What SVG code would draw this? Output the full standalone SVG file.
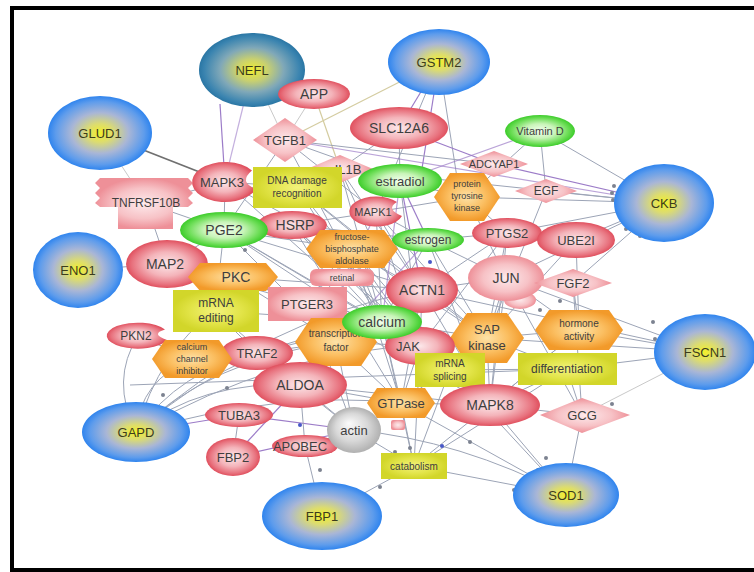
<svg xmlns="http://www.w3.org/2000/svg" width="754" height="572" viewBox="0 0 754 572">
<defs>
<radialGradient id="gB"><stop offset="0" stop-color="#f3f02a"/><stop offset="0.25" stop-color="#dcdc70"/><stop offset="0.55" stop-color="#a9b6d6"/><stop offset="0.85" stop-color="#5e9cec"/><stop offset="1" stop-color="#2f84ee"/></radialGradient>
<radialGradient id="gBD"><stop offset="0" stop-color="#f0ee30"/><stop offset="0.3" stop-color="#c8d070"/><stop offset="0.6" stop-color="#80a8b8"/><stop offset="0.9" stop-color="#3a84b0"/><stop offset="1" stop-color="#2a76a4"/></radialGradient>
<radialGradient id="gR"><stop offset="0" stop-color="#fce8ea"/><stop offset="0.5" stop-color="#f4b4ba"/><stop offset="0.85" stop-color="#e8727e"/><stop offset="1" stop-color="#e0505e"/></radialGradient>
<radialGradient id="gP"><stop offset="0" stop-color="#fdeaec"/><stop offset="0.6" stop-color="#f7c2c6"/><stop offset="1" stop-color="#ee9098"/></radialGradient>
<radialGradient id="gG"><stop offset="0" stop-color="#f4fff0"/><stop offset="0.45" stop-color="#c8f4b8"/><stop offset="0.8" stop-color="#6ede58"/><stop offset="1" stop-color="#3ccc2a"/></radialGradient>
<radialGradient id="gO"><stop offset="0" stop-color="#fde2a8"/><stop offset="0.55" stop-color="#fbbf62"/><stop offset="1" stop-color="#f29a2a"/></radialGradient>
<radialGradient id="gY"><stop offset="0" stop-color="#f2f27c"/><stop offset="0.6" stop-color="#e2e448"/><stop offset="1" stop-color="#d2d62a"/></radialGradient>
<radialGradient id="gA" fx="0.4" fy="0.35"><stop offset="0" stop-color="#fbfbfb"/><stop offset="0.6" stop-color="#d8d8d8"/><stop offset="1" stop-color="#b0b0b0"/></radialGradient>
<style>
.b{fill:url(#gB)} .bd{fill:url(#gBD)} .r{fill:url(#gR)} .p{fill:url(#gP)} .g{fill:url(#gG)} .o{fill:url(#gO)} .y{fill:url(#gY)} .a{fill:url(#gA)}
text{font-family:"Liberation Sans",Arial,sans-serif;text-anchor:middle;fill:#3e3e3e}
.tb{fill:#3c3c1c;font-size:13px}
.t14{font-size:14px} .t13{font-size:13px} .t12{font-size:12px} .t11{font-size:11px} .t10{font-size:10px} .t9{font-size:9px}
.e{stroke:#9ca4b6;stroke-width:1;fill:none}
.el{stroke:#c9c9c9;stroke-width:1;fill:none}
.ep{stroke:#9c7cc8;stroke-width:1.2;fill:none}
.ed{stroke:#707070;stroke-width:1.8;fill:none}
.et{stroke:#d4cca0;stroke-width:1.2;fill:none}
.d{fill:#7c8290} .db{fill:#4858c8}
</style>
</defs>
<rect x="0" y="0" width="754" height="572" fill="#ffffff"/>
<g id="connectors">
<line class="ed" x1="100" y1="133" x2="225" y2="182"/>
<line class="el" x1="100" y1="133" x2="146" y2="203"/>
<line class="ep" x1="225" y1="182" x2="220" y2="104"/>
<line class="ep" x1="252" y1="70" x2="228" y2="168" opacity="0.6"/>
<line class="el" x1="252" y1="70" x2="285" y2="140"/>
<line class="et" x1="314" y1="94" x2="340" y2="169"/>
<line class="el" x1="314" y1="94" x2="285" y2="140"/>
<line class="et" x1="439" y1="62" x2="285" y2="140"/>
<line class="ep" x1="439" y1="62" x2="399" y2="128"/>
<line class="ep" x1="439" y1="62" x2="420" y2="181"/>
<line class="e" x1="439" y1="62" x2="460" y2="197"/>
<line class="e" x1="439" y1="62" x2="376" y2="212"/>
<line class="ep" x1="399" y1="128" x2="494" y2="164"/>
<line class="e" x1="399" y1="128" x2="400" y2="181"/>
<line class="e" x1="399" y1="128" x2="340" y2="169"/>
<line class="e" x1="285" y1="140" x2="494" y2="164"/>
<line class="ep" x1="285" y1="140" x2="664" y2="203" opacity="0.7"/>
<line class="e" x1="285" y1="140" x2="400" y2="181"/>
<line class="e" x1="285" y1="140" x2="376" y2="212"/>
<line class="e" x1="285" y1="140" x2="224" y2="230"/>
<line class="e" x1="540" y1="131" x2="664" y2="203"/>
<line class="e" x1="540" y1="131" x2="546" y2="191"/>
<line class="e" x1="540" y1="131" x2="467" y2="197"/>
<line class="ep" x1="540" y1="131" x2="400" y2="181" opacity="0.7"/>
<line class="ep" x1="494" y1="164" x2="664" y2="203"/>
<line class="e" x1="546" y1="191" x2="664" y2="203"/>
<line class="e" x1="467" y1="197" x2="664" y2="203"/>
<line class="e" x1="576" y1="240" x2="664" y2="203"/>
<line class="e" x1="507" y1="233" x2="664" y2="203"/>
<line class="e" x1="573" y1="283" x2="664" y2="203"/>
<line class="e" x1="506" y1="278" x2="664" y2="203"/>
<line class="e" x1="340" y1="169" x2="664" y2="203"/>
<line class="e" x1="225" y1="182" x2="297" y2="187"/>
<line class="e" x1="225" y1="182" x2="224" y2="230"/>
<line class="e" x1="225" y1="182" x2="422" y2="290"/>
<line class="e" x1="225" y1="182" x2="146" y2="203"/>
<line class="e" x1="146" y1="203" x2="224" y2="230"/>
<line class="e" x1="146" y1="203" x2="167" y2="264"/>
<line class="e" x1="224" y1="230" x2="292" y2="225"/>
<line class="e" x1="224" y1="230" x2="352" y2="249"/>
<line class="e" x1="224" y1="230" x2="422" y2="290"/>
<line class="e" x1="224" y1="230" x2="382" y2="322"/>
<line class="e" x1="224" y1="230" x2="167" y2="264"/>
<line class="e" x1="224" y1="230" x2="215" y2="311"/>
<line class="e" x1="224" y1="230" x2="336" y2="342"/>
<line class="e" x1="292" y1="225" x2="376" y2="212"/>
<line class="e" x1="292" y1="225" x2="428" y2="240"/>
<line class="e" x1="376" y1="212" x2="428" y2="240"/>
<line class="e" x1="376" y1="212" x2="422" y2="290"/>
<line class="e" x1="376" y1="212" x2="467" y2="197"/>
<line class="ep" x1="400" y1="181" x2="428" y2="240"/>
<line class="ep" x1="400" y1="181" x2="422" y2="290"/>
<line class="e" x1="428" y1="240" x2="506" y2="278"/>
<line class="e" x1="428" y1="240" x2="507" y2="233"/>
<line class="e" x1="467" y1="197" x2="507" y2="233"/>
<line class="e" x1="467" y1="197" x2="506" y2="278"/>
<line class="e" x1="422" y1="290" x2="506" y2="278"/>
<line class="e" x1="422" y1="290" x2="382" y2="322"/>
<line class="e" x1="422" y1="290" x2="487" y2="338"/>
<line class="e" x1="422" y1="290" x2="490" y2="405"/>
<line class="e" x1="422" y1="290" x2="705" y2="352"/>
<line class="e" x1="506" y1="278" x2="573" y2="283"/>
<line class="e" x1="506" y1="278" x2="705" y2="352"/>
<line class="e" x1="506" y1="278" x2="487" y2="338"/>
<line class="e" x1="506" y1="278" x2="579" y2="330"/>
<line class="e" x1="576" y1="240" x2="579" y2="330"/>
<line class="e" x1="573" y1="283" x2="579" y2="330"/>
<line class="e" x1="487" y1="338" x2="579" y2="330"/>
<line class="e" x1="487" y1="338" x2="705" y2="352"/>
<line class="e" x1="579" y1="330" x2="705" y2="352"/>
<line class="e" x1="567" y1="369" x2="705" y2="352"/>
<line class="el" x1="705" y1="352" x2="582" y2="415"/>
<line class="e" x1="582" y1="415" x2="566" y2="495"/>
<line class="e" x1="490" y1="405" x2="566" y2="495"/>
<line class="e" x1="490" y1="405" x2="582" y2="415"/>
<line class="e" x1="567" y1="369" x2="582" y2="415"/>
<line class="e" x1="414" y1="466" x2="566" y2="495"/>
<line class="e" x1="401" y1="403" x2="566" y2="495"/>
<path class="e" d="M354 430 Q460 440 566 495"/>
<line class="e" x1="450" y1="370" x2="566" y2="495"/>
<line class="e" x1="414" y1="466" x2="322" y2="516"/>
<line class="e" x1="305" y1="446" x2="322" y2="516"/>
<line class="e" x1="354" y1="430" x2="414" y2="466"/>
<line class="e" x1="401" y1="403" x2="414" y2="466"/>
<line class="e" x1="401" y1="403" x2="490" y2="405"/>
<line class="e" x1="401" y1="403" x2="354" y2="430"/>
<line class="e" x1="382" y1="322" x2="401" y2="403"/>
<line class="e" x1="382" y1="322" x2="420" y2="346"/>
<line class="e" x1="382" y1="322" x2="336" y2="342"/>
<line class="e" x1="382" y1="322" x2="490" y2="405"/>
<line class="e" x1="420" y1="346" x2="490" y2="405"/>
<line class="e" x1="420" y1="346" x2="450" y2="370"/>
<line class="e" x1="336" y1="342" x2="300" y2="385"/>
<line class="e" x1="336" y1="342" x2="257" y2="353"/>
<line class="e" x1="257" y1="353" x2="300" y2="385"/>
<line class="e" x1="257" y1="353" x2="192" y2="359"/>
<line class="e" x1="192" y1="359" x2="138" y2="336"/>
<line class="e" x1="78" y1="270" x2="167" y2="264"/>
<line class="e" x1="167" y1="264" x2="233" y2="277"/>
<line class="e" x1="167" y1="264" x2="307" y2="304"/>
<line class="e" x1="233" y1="277" x2="307" y2="304"/>
<line class="e" x1="233" y1="277" x2="382" y2="322"/>
<line class="e" x1="215" y1="311" x2="257" y2="353"/>
<line class="e" x1="307" y1="304" x2="382" y2="322"/>
<line class="e" x1="300" y1="385" x2="354" y2="430"/>
<line class="e" x1="300" y1="385" x2="490" y2="405"/>
<line class="e" x1="300" y1="385" x2="401" y2="403"/>
<path class="e" d="M136 432 Q200 380 300 385"/>
<path class="e" d="M136 432 Q180 370 257 353"/>
<path class="e" d="M136 432 Q210 360 336 342"/>
<path class="e" d="M136 432 Q240 340 382 322"/>
<path class="e" d="M136 432 Q140 380 192 359"/>
<path class="e" d="M136 432 Q110 380 138 336"/>
<path class="e" d="M136 432 Q160 350 215 311"/>
<path class="e" d="M136 432 Q280 350 420 346"/>
<path class="e" d="M136 432 Q260 320 422 290"/>
<path class="e" d="M136 432 Q280 390 401 403"/>
<line class="e" x1="130" y1="385" x2="567" y2="369"/>
<line class="ep" x1="136" y1="432" x2="239" y2="415"/>
<line class="ep" x1="239" y1="415" x2="354" y2="430"/>
<line class="ep" x1="233" y1="457" x2="300" y2="385"/>
<line class="ep" x1="233" y1="457" x2="354" y2="430"/>
<line class="e" x1="233" y1="457" x2="239" y2="415"/>
<line class="e" x1="305" y1="446" x2="354" y2="430"/>
<line class="e" x1="305" y1="446" x2="300" y2="385"/>
<line class="e" x1="490" y1="405" x2="567" y2="369"/>
<line class="e" x1="490" y1="405" x2="579" y2="330"/>
<line class="e" x1="487" y1="338" x2="567" y2="369"/>
<line class="e" x1="450" y1="370" x2="567" y2="369"/>
<line class="e" x1="352" y1="249" x2="487" y2="338"/>
<line class="e" x1="352" y1="249" x2="420" y2="346"/>
<line class="e" x1="292" y1="225" x2="401" y2="403"/>
<line class="e" x1="297" y1="187" x2="487" y2="338"/>
<line class="e" x1="297" y1="187" x2="422" y2="290"/>
<line class="e" x1="340" y1="169" x2="382" y2="322"/>
<line class="e" x1="340" y1="169" x2="467" y2="197"/>
<line class="ep" x1="376" y1="212" x2="300" y2="385" opacity="0.7"/>
<line class="ep" x1="428" y1="240" x2="336" y2="342" opacity="0.7"/>
<line class="e" x1="507" y1="233" x2="490" y2="405"/>
<line class="e" x1="546" y1="191" x2="487" y2="338"/>
<line class="e" x1="307" y1="304" x2="490" y2="405"/>
<line class="e" x1="307" y1="304" x2="420" y2="346"/>
<line class="e" x1="307" y1="304" x2="354" y2="430"/>
<line class="e" x1="292" y1="225" x2="382" y2="322"/>
<line class="e" x1="292" y1="225" x2="420" y2="346"/>
<line class="e" x1="292" y1="225" x2="490" y2="405"/>
<line class="e" x1="352" y1="249" x2="490" y2="405"/>
<line class="e" x1="352" y1="249" x2="382" y2="322"/>
<line class="e" x1="352" y1="249" x2="401" y2="403"/>
<line class="e" x1="376" y1="212" x2="382" y2="322"/>
<line class="e" x1="376" y1="212" x2="420" y2="346"/>
<line class="e" x1="376" y1="212" x2="487" y2="338"/>
<line class="e" x1="428" y1="240" x2="382" y2="322"/>
<line class="e" x1="428" y1="240" x2="487" y2="338"/>
<line class="e" x1="428" y1="240" x2="490" y2="405"/>
<line class="e" x1="507" y1="233" x2="487" y2="338"/>
<line class="e" x1="507" y1="233" x2="422" y2="290"/>
<line class="e" x1="507" y1="233" x2="420" y2="346"/>
<line class="e" x1="233" y1="277" x2="420" y2="346"/>
<line class="e" x1="233" y1="277" x2="422" y2="290"/>
<line class="e" x1="233" y1="277" x2="336" y2="342"/>
<line class="e" x1="215" y1="311" x2="382" y2="322"/>
<line class="e" x1="215" y1="311" x2="300" y2="385"/>
<line class="e" x1="257" y1="353" x2="382" y2="322"/>
<line class="e" x1="257" y1="353" x2="354" y2="430"/>
<line class="e" x1="336" y1="342" x2="401" y2="403"/>
<line class="e" x1="336" y1="342" x2="420" y2="346"/>
<line class="e" x1="336" y1="342" x2="354" y2="430"/>
<line class="e" x1="300" y1="385" x2="382" y2="322"/>
<line class="e" x1="420" y1="346" x2="401" y2="403"/>
<line class="e" x1="420" y1="346" x2="414" y2="466"/>
<line class="e" x1="382" y1="322" x2="414" y2="466"/>
<line class="e" x1="382" y1="322" x2="487" y2="338"/>
<line class="e" x1="422" y1="290" x2="420" y2="346"/>
<line class="e" x1="422" y1="290" x2="401" y2="403"/>
<line class="e" x1="487" y1="338" x2="490" y2="405"/>
<line class="e" x1="487" y1="338" x2="401" y2="403"/>
<line class="e" x1="450" y1="370" x2="414" y2="466"/>
<line class="e" x1="490" y1="405" x2="414" y2="466"/>
<line class="e" x1="567" y1="369" x2="414" y2="466"/>
<line class="e" x1="579" y1="330" x2="490" y2="405"/>
<line class="e" x1="576" y1="240" x2="487" y2="338"/>
<line class="e" x1="506" y1="278" x2="490" y2="405"/>
<line class="e" x1="506" y1="278" x2="582" y2="415"/>
<line class="e" x1="573" y1="283" x2="582" y2="415"/>
<line class="e" x1="225" y1="182" x2="382" y2="322"/>
<line class="e" x1="297" y1="187" x2="382" y2="322"/>
<line class="e" x1="297" y1="187" x2="420" y2="346"/>
<line class="e" x1="340" y1="169" x2="422" y2="290"/>
<line class="e" x1="340" y1="169" x2="420" y2="346"/>
<line class="ep" x1="400" y1="181" x2="382" y2="322" opacity="0.7"/>
<line class="e" x1="400" y1="181" x2="420" y2="346"/>
<line class="e" x1="285" y1="140" x2="382" y2="322"/>
<line class="e" x1="224" y1="230" x2="420" y2="346"/>
<line class="e" x1="224" y1="230" x2="490" y2="405"/>
</g>
<g id="dots">
<circle class="d" cx="614" cy="186" r="2"/><circle class="d" cx="612" cy="193" r="2"/><circle class="d" cx="613" cy="200" r="2"/>
<circle class="d" cx="626" cy="229" r="2"/><circle class="d" cx="640" cy="236" r="2"/><circle class="d" cx="653" cy="322" r="2"/>
<circle class="d" cx="655" cy="339" r="2"/><circle class="d" cx="612" cy="404" r="2"/><circle class="d" cx="546" cy="458" r="2"/>
<circle class="d" cx="538" cy="470" r="2"/><circle class="d" cx="520" cy="484" r="2"/><circle class="d" cx="514" cy="490" r="2"/>
<circle class="d" cx="380" cy="487" r="2"/><circle class="d" cx="320" cy="470" r="2"/><circle class="d" cx="200" cy="178" r="2"/>
<circle class="d" cx="143" cy="407" r="2"/><circle class="d" cx="163" cy="395" r="2"/><circle class="d" cx="227" cy="388" r="2"/>
<circle class="db" cx="325" cy="398" r="2"/><circle class="db" cx="442" cy="446" r="2"/><circle class="d" cx="470" cy="442" r="2"/>
<circle class="d" cx="560" cy="301" r="2"/><circle class="d" cx="540" cy="310" r="2"/><circle class="db" cx="430" cy="262" r="2"/>
<circle class="d" cx="245" cy="250" r="2"/><circle class="d" cx="325" cy="260" r="2"/><circle class="d" cx="460" cy="378" r="2"/>
<circle class="d" cx="395" cy="452" r="2"/><circle class="d" cx="410" cy="448" r="2"/><circle class="db" cx="300" cy="425" r="2"/>
</g>
<g id="frame" fill="none" stroke="#000">
<path d="M12 572 V8 H754" stroke-width="4"/>
<path d="M10 570 H754" stroke-width="4"/>
</g>
<g id="NEFL"><ellipse class="bd" cx="252" cy="70" rx="53" ry="37"/><text class="tb" x="252" y="75">NEFL</text></g>
<g id="GSTM2"><ellipse class="b" cx="439" cy="62" rx="51" ry="33"/><text class="tb" x="439" y="67">GSTM2</text></g>
<g id="GLUD1"><ellipse class="b" cx="100" cy="133" rx="52" ry="37"/><text class="tb" x="100" y="138">GLUD1</text></g>
<g id="CKB"><ellipse class="b" cx="664" cy="203" rx="50" ry="39"/><text class="tb" x="664" y="208">CKB</text></g>
<g id="ENO1"><ellipse class="b" cx="78" cy="270" rx="45" ry="38"/><text class="tb" x="78" y="275">ENO1</text></g>
<g id="FSCN1"><ellipse class="b" cx="705" cy="352" rx="51" ry="38"/><text class="tb" x="705" y="357">FSCN1</text></g>
<g id="GAPD"><ellipse class="b" cx="136" cy="432" rx="54" ry="30"/><text class="tb" x="136" y="437">GAPD</text></g>
<g id="FBP1"><ellipse class="b" cx="322" cy="516" rx="60" ry="34"/><text class="tb" x="322" y="521">FBP1</text></g>
<g id="SOD1"><ellipse class="b" cx="566" cy="495" rx="53" ry="32"/><text class="tb" x="566" y="500">SOD1</text></g>
<g id="APP"><ellipse class="r" cx="314" cy="94" rx="36" ry="15"/><text class="t14" x="314" y="99">APP</text></g>
<g id="SLC12A6"><ellipse class="r" cx="399" cy="128" rx="49" ry="21"/><text class="t14" x="399" y="133">SLC12A6</text></g>
<g id="TGFB1"><polygon class="p" points="253,140 285,118 317,140 285,162"/><text class="t13" x="285" y="145">TGFB1</text></g>
<g id="IL1B"><polygon class="p" points="307,169 340,155 373,169 340,183"/><text class="t13" x="348" y="174">IL1B</text></g>
<g id="VitaminD"><ellipse class="g" cx="540" cy="131" rx="35" ry="16"/><text class="t11" x="540" y="135">Vitamin D</text></g>
<g id="ADCYAP1"><polygon class="p" points="460,164 494,151 528,164 494,177"/><text class="t11" x="494" y="168">ADCYAP1</text></g>
<g id="EGF"><polygon class="p" points="515,191 546,179 577,191 546,203"/><text class="t12" x="546" y="195">EGF</text></g>
<g id="TNFRSF10B"><path class="p" d="M100 178 L188 178 L193 183 L188 188 L193 193 L188 198 L193 203 L188 207 L173 207 L173 229 L118 229 L118 207 L100 207 L95 203 L100 198 L95 193 L100 188 L95 183 Z"/><text class="t12" x="146" y="207">TNFRSF10B</text></g>
<g id="MAPK3"><path class="r" d="M252 170.5 A33 20 0 1 0 256 189 Q238 182 252 170.5 Z"/><text class="t13" x="222" y="187">MAPK3</text></g>
<g id="DNAdamage"><rect class="y" x="253" y="167" width="89" height="41"/><text class="t10" x="297" y="184">DNA damage</text><text class="t10" x="297" y="197">recognition</text></g>
<g id="estradiol"><ellipse class="g" cx="400" cy="181" rx="42" ry="17"/><text class="t13" x="400" y="186">estradiol</text></g>
<g id="PTK"><polygon class="o" points="434,197 450,173 484,173 500,197 484,221 450,221"/><text class="t9" x="467" y="187">protein</text><text class="t9" x="467" y="199">tyrosine</text><text class="t9" x="467" y="211">kinase</text></g>
<g id="HSRP"><ellipse class="r" cx="292" cy="225" rx="35" ry="14"/><text class="t14" x="295" y="230">HSRP</text></g>
<g id="PGE2"><ellipse class="g" cx="224" cy="230" rx="44" ry="18"/><text class="t14" x="224" y="235">PGE2</text></g>
<g id="MAPK1"><path class="r" d="M397 202 A27 15 0 1 0 402 216 Q385 209 397 202 Z"/><text class="t11" x="373" y="216">MAPK1</text></g>
<g id="estrogen"><ellipse class="g" cx="428" cy="240" rx="36" ry="12"/><text class="t12" x="428" y="244">estrogen</text></g>
<g id="PTGS2"><ellipse class="r" cx="507" cy="233" rx="35" ry="15"/><text class="t13" x="507" y="238">PTGS2</text></g>
<g id="UBE2I"><ellipse class="r" cx="576" cy="240" rx="39" ry="18"/><text class="t13" x="576" y="245">UBE2I</text></g>
<g id="MAP2"><ellipse class="r" cx="167" cy="264" rx="41" ry="24"/><text class="t14" x="165" y="269">MAP2</text></g>
<g id="retinal"><rect class="p" x="310" y="269" width="64" height="17" rx="6"/><text class="t9" x="342" y="281">retinal</text></g>
<g id="FBA"><polygon class="o" points="306,249 320,230 384,230 398,249 384,268 320,268"/><text class="t9" x="352" y="240">fructose-</text><text class="t9" x="352" y="252">bisphosphate</text><text class="t9" x="352" y="264">aldolase</text></g>
<g id="PKC"><polygon class="o" points="188,277 200,263 266,263 278,277 266,291 200,291"/><text class="t14" x="236" y="282">PKC</text></g>
<g id="JUN"><ellipse class="p" cx="520" cy="300" rx="16" ry="9"/><ellipse class="p" cx="506" cy="278" rx="38" ry="23"/><text class="t14" x="506" y="283">JUN</text></g>
<g id="FGF2"><polygon class="p" points="534,283 573,269 612,283 573,297"/><text class="t13" x="573" y="288">FGF2</text></g>
<g id="ACTN1"><ellipse class="r" cx="422" cy="290" rx="36" ry="23"/><text class="t14" x="422" y="295">ACTN1</text></g>
<g id="mRNAediting"><rect class="y" x="173" y="290" width="86" height="42"/><text class="t12" x="216" y="307">mRNA</text><text class="t12" x="216" y="322">editing</text></g>
<g id="PTGER3"><rect class="p" x="268" y="287" width="79" height="34"/><text class="t13" x="307" y="309">PTGER3</text></g>
<g id="hormone"><polygon class="o" points="535,330 549,310 609,310 623,330 609,350 549,350"/><text class="t10" x="579" y="327">hormone</text><text class="t10" x="579" y="340">activity</text></g>
<g id="SAP"><polygon class="o" points="450,338 467,313 507,313 524,338 507,363 467,363"/><text class="t13" x="487" y="334">SAP</text><text class="t13" x="487" y="350">kinase</text></g>
<g id="PKN2"><path class="r" d="M165 329.5 A31 13 0 1 0 167 340 Q150 334 165 329.5 Z"/><text class="t12" x="136" y="340">PKN2</text></g>
<g id="TRAF2"><ellipse class="r" cx="257" cy="353" rx="36" ry="17"/><text class="t13" x="257" y="358">TRAF2</text></g>
<g id="CCI"><polygon class="o" points="152,359 165,340 219,340 232,359 219,378 165,378"/><text class="t9" x="192" y="350">calcium</text><text class="t9" x="192" y="362">channel</text><text class="t9" x="192" y="374">inhibitor</text></g>
<g id="JAK"><ellipse class="r" cx="420" cy="346" rx="35" ry="19"/><text class="t13" x="408" y="351">JAK</text></g>
<g id="TF"><polygon class="o" points="295,342 311,318 361,318 377,342 361,366 311,366"/><text class="t10" x="336" y="337">transcription</text><text class="t10" x="336" y="351">factor</text></g>
<g id="calcium"><ellipse class="g" cx="382" cy="322" rx="40" ry="17"/><text class="t14" x="382" y="327">calcium</text></g>
<g id="mRNAsplicing"><rect class="y" x="415" y="353" width="70" height="34"/><text class="t10" x="450" y="367">mRNA</text><text class="t10" x="450" y="380">splicing</text></g>
<g id="differentiation"><rect class="y" x="518" y="353" width="99" height="32"/><text class="t12" x="567" y="373">differentiation</text></g>
<g id="ALDOA"><ellipse class="r" cx="300" cy="385" rx="47" ry="23"/><text class="t14" x="300" y="390">ALDOA</text></g>
<g id="MAPK8"><ellipse class="r" cx="490" cy="405" rx="50" ry="21"/><text class="t14" x="490" y="410">MAPK8</text></g>
<g id="GCG"><polygon class="p" points="540,415 582,398 630,415 582,433"/><text class="t13" x="582" y="420">GCG</text></g>
<g id="TUBA3"><ellipse class="r" cx="239" cy="415" rx="34" ry="12"/><text class="t13" x="239" y="420">TUBA3</text></g>
<g id="FBP2"><ellipse class="r" cx="233" cy="457" rx="27" ry="19"/><text class="t13" x="233" y="462">FBP2</text></g>
<g id="APOBEC"><ellipse class="r" cx="305" cy="446" rx="33" ry="11"/><text class="t13" x="300" y="451">APOBEC</text></g>
<g id="small"><rect class="p" x="391" y="420" width="14" height="10" rx="2"/></g>
<g id="GTPase"><polygon class="o" points="367,403 377,388 425,388 435,403 425,418 377,418"/><text class="t13" x="401" y="408">GTPase</text></g>
<g id="actin"><ellipse class="a" cx="354" cy="430" rx="27" ry="23"/><text class="t13" x="354" y="435">actin</text></g>
<g id="catabolism"><rect class="y" x="381" y="453" width="66" height="26"/><text class="t10" x="414" y="470">catabolism</text></g>
</svg>
